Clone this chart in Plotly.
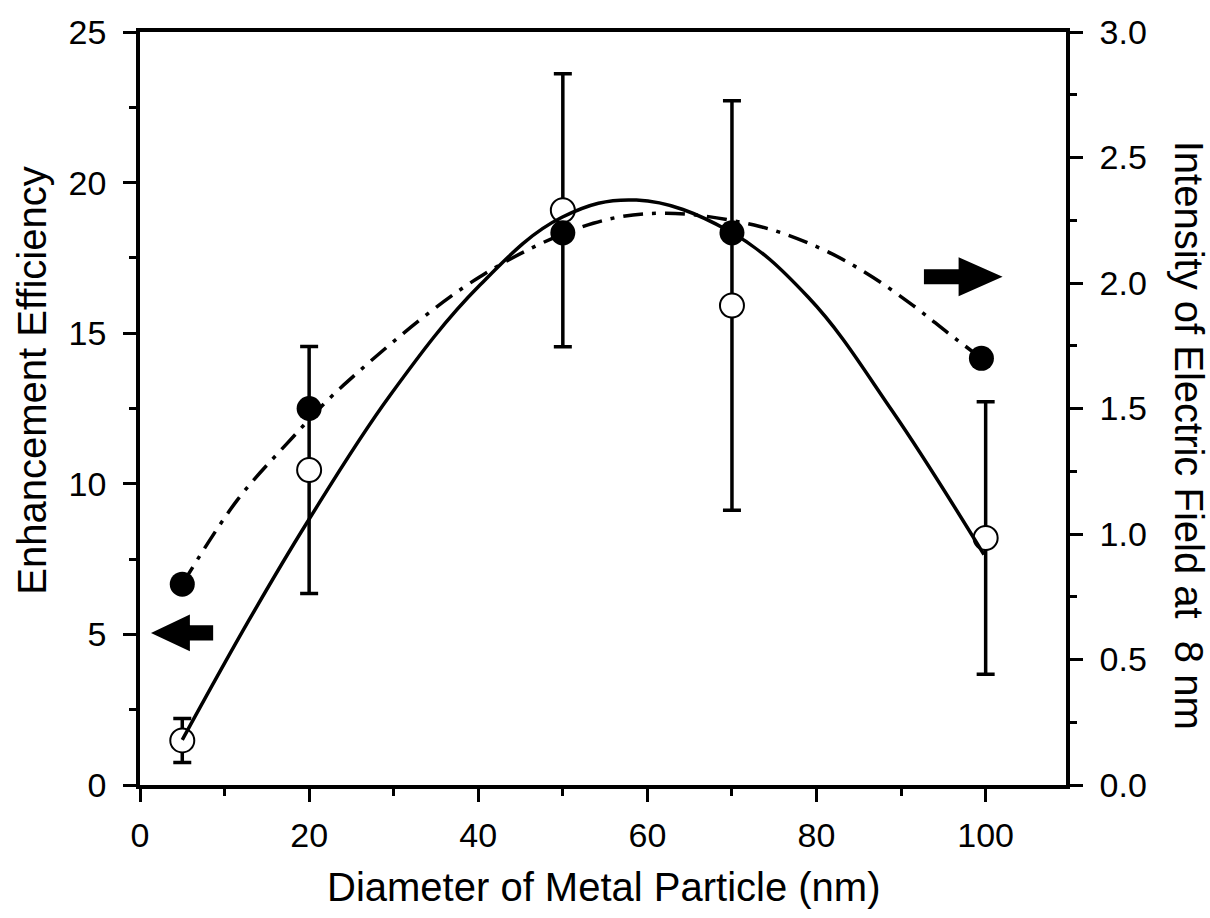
import plotly.graph_objects as go

# ---- data ----
diam = [5, 20, 50, 70, 100]
enhancement = [1.48, 10.46, 19.08, 15.92, 8.2]
enhancement_err = [0.73, 4.1, 4.53, 6.8, 4.52]

diam_field = [5, 20, 50, 70, 99.5]
field_intensity = [0.80, 1.50, 2.20, 2.20, 1.70]

fit_enh_x = [5, 12.9, 19.7, 29.6, 40.2, 49.9, 58.7, 69.6, 79.0, 89.0, 99.8]
fit_enh_y = [1.5, 5.48, 8.69, 12.95, 16.6, 18.85, 19.42, 18.4, 16.2, 12.4, 7.65]

fit_field_x = [5, 11.5, 17.4, 24.1, 40.2, 53.6, 62.2, 73.3, 80.4, 85.9, 91.4, 95.7, 99.5]
fit_field_y = [0.80, 1.135, 1.361, 1.594, 2.025, 2.238, 2.278, 2.225, 2.139, 2.039, 1.911, 1.797, 1.70]

x_ticks = [0, 20, 40, 60, 80, 100]
y_left_ticks = [0, 5, 10, 15, 20, 25]
y_right_ticks = [0.0, 0.5, 1.0, 1.5, 2.0, 2.5, 3.0]

# arrow indicators (tip x, base-of-head x, tail-end x, centre y, head half-height, tail half-height)
left_arrow = dict(tip=1.3, head=5.9, tail=8.65, yc=5.05, hh=0.61, th=0.25)
right_arrow = dict(tip=102.0, head=96.8, tail=92.7, yc=2.025, hh=0.078, th=0.030)

FONT = "Liberation Sans, Arial, sans-serif"

fig = go.Figure()

# dash-dot fit (right axis)
fig.add_trace(go.Scatter(
    x=fit_field_x, y=fit_field_y, yaxis="y2", mode="lines",
    line=dict(color="black", width=3.5, dash="20px,9px,4px,9px", shape="spline", smoothing=1.0),
    showlegend=False, hoverinfo="skip"))
# filled circles (right axis)
fig.add_trace(go.Scatter(
    x=diam_field, y=field_intensity, yaxis="y2", mode="markers",
    marker=dict(symbol="circle", size=25, color="black", line=dict(width=0)),
    showlegend=False))

# open circles with error bars (left axis)
fig.add_trace(go.Scatter(
    x=diam, y=enhancement, mode="markers",
    error_y=dict(type="data", array=enhancement_err, visible=True,
                 color="black", thickness=3.5, width=9),
    marker=dict(symbol="circle", size=24, color="white", line=dict(color="black", width=2)),
    showlegend=False))
# solid fit (left axis)
fig.add_trace(go.Scatter(
    x=fit_enh_x, y=fit_enh_y, mode="lines",
    line=dict(color="black", width=3.5, shape="spline", smoothing=1.1),
    showlegend=False, hoverinfo="skip"))


def arrow_path(a):
    tip, head, tail, yc, hh, th = a["tip"], a["head"], a["tail"], a["yc"], a["hh"], a["th"]
    return (f"M {tip},{yc} L {head},{yc + hh} L {head},{yc + th} L {tail},{yc + th} "
            f"L {tail},{yc - th} L {head},{yc - th} L {head},{yc - hh} Z")


fig.add_shape(type="path", path=arrow_path(left_arrow), xref="x", yref="y",
              fillcolor="black", line=dict(width=0))
fig.add_shape(type="path", path=arrow_path(right_arrow), xref="x", yref="y2",
              fillcolor="black", line=dict(width=0))

axis_common = dict(
    showline=True, linecolor="black", linewidth=3.5,
    ticks="outside", ticklen=13, tickwidth=3, tickcolor="black",
    showgrid=False, zeroline=False,
    tickfont=dict(family=FONT, size=34, color="black"),
)

fig.update_layout(
    width=1210, height=918,
    margin=dict(l=139.5, r=143.5, t=32, b=133),
    paper_bgcolor="white", plot_bgcolor="white",
    font=dict(family=FONT, color="black"),
    xaxis=dict(range=[0, 109.5], tickvals=x_ticks, mirror=True, ticklabelstandoff=4,
               minor=dict(ticks="outside", ticklen=7, tickwidth=3, tickcolor="black", dtick=10, tick0=0),
               **axis_common),
    yaxis=dict(range=[0, 25], tickvals=y_left_ticks, ticklabelstandoff=10,
               minor=dict(ticks="outside", ticklen=7, tickwidth=3, tickcolor="black", dtick=2.5, tick0=0),
               **axis_common),
    yaxis2=dict(range=[0, 3], tickvals=y_right_ticks, tickformat=".1f", overlaying="y", side="right",
                ticklabelstandoff=10,
                minor=dict(ticks="outside", ticklen=7, tickwidth=3, tickcolor="black", dtick=0.25, tick0=0),
                **axis_common),
    annotations=[
        dict(text="Diameter of Metal Particle (nm)", xref="paper", yref="paper",
             x=0.501, y=-0.1355, xanchor="center", yanchor="middle", showarrow=False,
             font=dict(family=FONT, size=40, color="black")),
        dict(text="Enhancement Efficiency", xref="paper", yref="paper",
             x=-0.117, y=0.5365, xanchor="center", yanchor="middle", showarrow=False, textangle=-90,
             font=dict(family=FONT, size=40, color="black")),
        dict(text="Intensity of Electric Field at  8 nm", xref="paper", yref="paper",
             x=1.1332, y=0.4648, xanchor="center", yanchor="middle", showarrow=False, textangle=90,
             font=dict(family=FONT, size=40, color="black")),
    ],
)

fig.write_html("out.html")
